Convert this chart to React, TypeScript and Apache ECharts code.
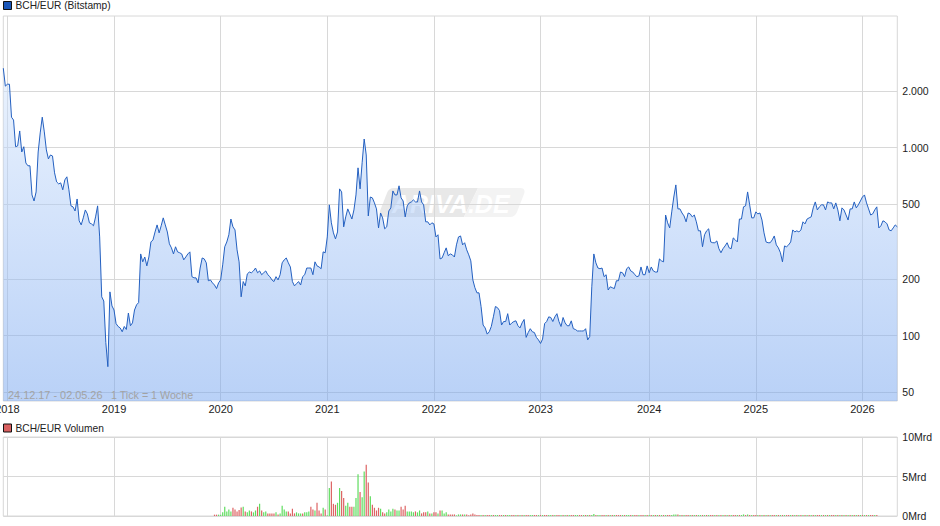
import React, { useEffect, useRef } from "react";
import * as echarts from "echarts";

const FONT = '"Liberation Sans", Arial, sans-serif';
const GRID_LINE = "#d8d8d8";

// weekly closes in EUR
const close2018 = [2640, 2120, 2170, 2170, 1450, 1400, 1010, 1020, 1225, 947, 1010, 828, 800, 800, 560, 520, 581, 947, 1196, 1450, 1211, 971, 870, 913, 902, 734, 657, 641, 649, 596, 673, 699, 596, 490, 484, 460, 533, 408, 388, 423, 466, 444, 398, 393, 384, 428, 490, 335, 161, 153, 92, 68.5, 171, 144];
const close2019 = [137, 116, 112, 110, 105, 112, 108, 132, 113, 117, 137, 146, 150, 272, 247, 262, 235, 262, 315, 323, 356, 388, 352, 384, 423, 388, 356, 308, 293, 272, 297, 279, 276, 272, 253, 262, 272, 279, 206, 203, 203, 191, 229, 259, 256, 244, 196, 198, 191, 186, 178, 191];
const close2020 = [198, 238, 297, 315, 344, 417, 379, 365, 286, 247, 161, 194, 184, 213, 218, 216, 221, 229, 216, 221, 211, 216, 221, 211, 206, 198, 194, 206, 198, 211, 244, 253, 259, 244, 232, 194, 184, 189, 194, 186, 206, 211, 229, 229, 229, 211, 247, 235, 232, 227, 279, 276];
const close2021 = [335, 496, 398, 352, 327, 356, 603, 581, 379, 428, 472, 444, 417, 466, 560, 780, 603, 830, 1110, 913, 433, 546, 540, 508, 472, 374, 449, 423, 370, 379, 460, 478, 588, 560, 560, 626, 540, 520, 428, 490, 508, 514, 527, 514, 514, 588, 514, 496, 403, 403, 388, 398];
const close2022 = [393, 335, 344, 256, 259, 276, 293, 266, 272, 269, 262, 304, 335, 339, 304, 312, 286, 269, 250, 198, 180, 169, 169, 143, 114, 110, 102, 105, 112, 126, 143, 141, 136, 114, 119, 119, 131, 114, 117, 119, 120, 113, 110, 117, 122, 98, 104, 109, 105, 104, 98, 95];
const close2023 = [91, 96, 116, 119, 126, 125, 119, 126, 131, 119, 112, 125, 117, 113, 113, 120, 109, 108, 106, 106, 106, 106, 109, 95, 99, 182, 272, 244, 229, 227, 229, 206, 211, 175, 182, 180, 178, 196, 196, 218, 216, 206, 227, 232, 221, 218, 211, 206, 208, 232, 211, 211, 235];
const close2024 = [216, 232, 221, 218, 218, 256, 250, 247, 438, 398, 374, 455, 546, 633, 472, 472, 449, 433, 403, 449, 444, 428, 438, 403, 361, 361, 297, 344, 361, 370, 315, 312, 312, 319, 290, 276, 290, 300, 312, 293, 290, 331, 323, 315, 417, 417, 484, 490, 581, 496, 423, 423];
const close2025 = [455, 444, 449, 412, 352, 315, 312, 312, 323, 339, 304, 293, 276, 247, 300, 297, 304, 315, 365, 356, 361, 356, 365, 403, 393, 417, 423, 428, 478, 514, 466, 484, 496, 496, 466, 514, 508, 508, 472, 508, 466, 408, 478, 466, 438, 412, 472, 472, 514, 478, 496, 520];
const close2026 = [546, 560, 508, 472, 438, 444, 466, 484, 374, 384, 408, 403, 393, 365, 361, 374, 388, 379];
const closes = [...close2018, ...close2019, ...close2020, ...close2021, ...close2022, ...close2023, ...close2024, ...close2025, ...close2026];

// volume in Mrd, ten weeks a row, first bar is week number volumeStart
const volumeStart = 103;
const volumes = [
  0.17, 0.17, 0.17, 0.17, 0.46, 1.17, 0.58, 0.83, 0.58, 1.04,
  0.83, 0.58, 0.75, 1.08, 1.17, 0.58, 0.46, 0.7, 0.58, 0.46,
  0.7, 1.17, 1.54, 0.7, 0.46, 0.58, 0.33, 0.33, 0.33, 0.33,
  0.46, 0.2, 0.33, 1.29, 0.83, 0.58, 0.58, 0.33, 0.92, 0.33,
  0.46, 0.33, 0.33, 0.33, 0.46, 0.46, 0.58, 1.17, 0.83, 0.7,
  1.67, 0.7, 0.33, 1.04, 0.83, 0.08, 3.54, 4.38, 1.54, 1.42,
  1.67, 3.54, 3.17, 2.29, 1.29, 1.67, 1.17, 1.17, 1.17, 2.29,
  5.3, 3.04, 2.38, 5.63, 6.5, 4.25, 2.5, 1.42, 1.04, 0.7,
  1.04, 0.92, 0.46, 0.33, 0.46, 0.83, 0.58, 0.92, 0.83, 0.7,
  0.7, 1.17, 0.83, 1.29, 0.58, 0.58, 0.58, 0.46, 0.58, 0.46,
  0.7, 0.33, 0.46, 0.46, 0.58, 0.33, 0.33, 0.46, 0.46, 0.33,
  0.7, 0.7, 0.33, 0.46, 0.2, 0.2, 0.2, 0.2, 0.08, 0.2,
  0.2, 0.2, 0.2, 0.2, 0.08, 0.2, 0.33, 0.2,
  0.12, 0.12, 0.12, 0.12, 0.12, 0.12, 0.12, 0.12, 0.12, 0.12,
  0.12, 0.12, 0.12, 0.12, 0.12, 0.12, 0.12, 0.12, 0.12, 0.12,
  0.12, 0.12, 0.12, 0.12, 0.12, 0.12, 0.12, 0.12, 0.12, 0.12,
  0.12, 0.12, 0.12, 0.12, 0.12, 0.12, 0.12, 0.12, 0.12, 0.12,
  0.12, 0.12, 0.12, 0.12, 0.12, 0.12, 0.12, 0.12, 0.12, 0.12,
  0.12, 0.12, 0.12, 0.12, 0.12, 0.12, 0.12, 0.25, 0.12, 0.12,
  0.12, 0.12, 0.12, 0.12, 0.12, 0.12, 0.12, 0.12, 0.12, 0.12,
  0.12, 0.12, 0.12, 0.12, 0.12, 0.12, 0.12, 0.12, 0.12, 0.12,
  0.12, 0.12, 0.12, 0.12, 0.12, 0.12, 0.12, 0.12, 0.12, 0.12,
  0.12, 0.12, 0.12, 0.12, 0.12, 0.12, 0.2, 0.2, 0.2, 0.12,
  0.12, 0.12, 0.12, 0.12, 0.12, 0.12, 0.12, 0.12, 0.12, 0.12,
  0.12, 0.12, 0.12, 0.12, 0.12, 0.12, 0.12, 0.12, 0.12, 0.12,
  0.12, 0.12, 0.12, 0.12, 0.12, 0.12, 0.12, 0.12, 0.12, 0.12,
  0.2, 0.12, 0.2, 0.12, 0.12, 0.12, 0.12, 0.12, 0.12, 0.12,
  0.12, 0.12, 0.12, 0.12, 0.12, 0.12, 0.12, 0.12, 0.12, 0.12,
  0.12, 0.12, 0.12, 0.12, 0.12, 0.12, 0.12, 0.12, 0.12, 0.12,
  0.12, 0.12, 0.12, 0.12, 0.12, 0.12, 0.12, 0.12, 0.12, 0.12,
  0.12, 0.12, 0.12, 0.12, 0.12, 0.12, 0.12, 0.12, 0.12, 0.12,
  0.12, 0.12, 0.12, 0.12, 0.12, 0.12, 0.12, 0.12, 0.12, 0.12,
  0.12, 0.12, 0.12, 0.12, 0.12, 0.12,
];
// r = red week, g = green week
const volumeSides = [
  "rrgggggggr", "rrrrgrggrg", "grgrggrrrr", "grggggrrrr", "gggrgggrrg",
  "rrrgrggrrr", "ggrrggrrgg", "grggrrgrrr", "rgrrggggrg", "grrrggggrg",
  "grrrgrgrrg", "rgggrrrrgg", "grgrrrrr", "rrgrgrrgrg", "grrgrggrrg",
  "rgrgrrggrr", "grgrrggrgr", "rgrgrgrrgg", "rrgrgrggrg", "grrgrgrgrr",
  "rgrggrgrrg", "rrgrgrgrgr", "grgrrgggrg", "rgrrgrgrgg", "rgrgrrgrgr",
  "grgrgrrgrg", "grgrgrrgrg", "rgrgrrgrgr", "grrgrgrgrg", "rgrgrgrrgr",
  "grgrrgrgrg", "rgrgrgrgrg", "rgrrgrgrgr", "grgrgr",
].join("");

const yearTicks = [2, 54, 106, 158, 210, 262, 315, 367, 419];
const yearLabels = ["2018", "2019", "2020", "2021", "2022", "2023", "2024", "2025", "2026"];
const priceTicks = [2000, 1000, 500, 200, 100, 50];
const priceLabels = ["2.000", "1.000", "500", "200", "100", "50"];

const weeks = closes.map((_, i) => {
  const d = new Date(Date.UTC(2017, 11, 24 + i * 7));
  return d.toISOString().slice(0, 10);
});

const isYearTick = (index: number) => yearTicks.includes(index);

echarts.graphic.registerShape(
  "wmLeft",
  echarts.graphic.extendPath("M394 188 H478 L464 217 H384 Q378 217 380 211 L387 193 Q389 188 394 188 Z", {})
);
echarts.graphic.registerShape(
  "wmRight",
  echarts.graphic.extendPath("M478 188 H520 Q526 188 524 194 L517 212 Q515 217 510 217 H464 Z", {})
);

export default function App() {
  const chartRef = useRef<HTMLDivElement | null>(null);

  useEffect(() => {
    if (!chartRef.current) return;
    const chart = echarts.init(chartRef.current, undefined, { renderer: "svg" });

    const xAxisBase = {
      type: "category" as const,
      data: weeks,
      boundaryGap: false,
      axisLine: { show: false },
      axisTick: { show: false },
      splitLine: {
        show: true,
        interval: (index: number) => isYearTick(index),
        lineStyle: { color: GRID_LINE, width: 1 },
      },
    };

    const option = {
      animation: false,
      textStyle: { fontFamily: FONT },
      legend: [
        {
          left: 3,
          top: 0.5,
          padding: 0,
          itemWidth: 8,
          itemHeight: 8,
          itemGap: 4,
          selectedMode: false,
          textStyle: { fontSize: 10.2, color: "#222", fontFamily: FONT, padding: [0, 0, 0, -1] },
          data: [
            {
              name: "BCH/EUR (Bitstamp)",
              icon: "rect",
              itemStyle: { color: "#1a56b8", borderColor: "#111", borderWidth: 1 },
            },
          ],
        },
        {
          left: 3,
          top: 423,
          padding: 0,
          itemWidth: 8,
          itemHeight: 8,
          itemGap: 4,
          selectedMode: false,
          textStyle: { fontSize: 10.2, color: "#222", fontFamily: FONT, padding: [0, 0, 0, -1] },
          data: [
            {
              name: "BCH/EUR Volumen",
              icon: "rect",
              itemStyle: { color: "#d96060", borderColor: "#111", borderWidth: 1 },
            },
          ],
        },
      ],
      grid: [
        { left: 3.3, right: 42.7, top: 16, height: 385, show: true, borderColor: GRID_LINE, borderWidth: 1, backgroundColor: "transparent", outerBoundsMode: "none" },
        { left: 3.3, right: 42.7, top: 437, height: 79, show: true, borderColor: GRID_LINE, borderWidth: 1, backgroundColor: "transparent", outerBoundsMode: "none" },
      ],
      xAxis: [
        {
          ...xAxisBase,
          gridIndex: 0,
          axisLabel: {
            show: true,
            interval: (index: number) => isYearTick(index),
            formatter: (value: string) => yearLabels[yearTicks.findIndex((t) => weeks[t] === value)],
            fontSize: 11,
            color: "#222",
            margin: 2,
            hideOverlap: false,
          },
        },
        { ...xAxisBase, gridIndex: 1, axisLabel: { show: false } },
      ],
      yAxis: [
        {
          type: "log",
          gridIndex: 0,
          min: 45,
          max: 5000,
          position: "right",
          axisLine: { show: false },
          axisTick: { show: false },
          axisLabel: { show: false },
          splitLine: { show: false },
          minorSplitLine: { show: false },
        },
        {
          type: "value",
          gridIndex: 1,
          min: 0,
          max: 10,
          interval: 5,
          position: "right",
          axisLine: { show: false },
          axisTick: { show: false },
          axisLabel: { fontSize: 10.5, color: "#222", margin: 5, formatter: (v: number) => `${v}Mrd` },
          splitLine: { show: true, lineStyle: { color: GRID_LINE, width: 1 } },
        },
      ],
      series: [
        {
          name: "BCH/EUR (Bitstamp)",
          type: "line",
          xAxisIndex: 0,
          yAxisIndex: 0,
          data: closes,
          showSymbol: false,
          symbol: "none",
          z: 3,
          lineStyle: { color: "#2460c0", width: 1 },
          itemStyle: { color: "#2460c0" },
          areaStyle: {
            origin: "start",
            opacity: 1,
            color: new echarts.graphic.LinearGradient(0, 0, 0, 1, [
              { offset: 0, color: "rgba(213,230,253,0.5)" },
              { offset: 1, color: "rgba(115,163,239,0.5)" },
            ]),
          },
          markLine: {
            silent: true,
            z: 1,
            symbol: "none",
            lineStyle: { color: GRID_LINE, width: 1, type: "solid" },
            label: {
              show: true,
              position: "end",
              distance: 5,
              fontSize: 10.5,
              color: "#222",
              fontFamily: FONT,
              formatter: (p: { name: string }) => p.name,
            },
            data: priceTicks.map((v, i) => ({ yAxis: v, name: priceLabels[i] })),
          },
        },
        {
          name: "BCH/EUR Volumen",
          type: "bar",
          xAxisIndex: 1,
          yAxisIndex: 1,
          barWidth: 1.2,
          data: volumes.map((v, i) => ({
            value: [volumeStart + i, v],
            itemStyle: { color: volumeSides[i] === "g" ? "#5fdd5f" : "#dd6363" },
          })),
        },
      ],
      graphic: [
        { type: "wmLeft", x: 0, y: 0, z: 0, silent: true, style: { fill: "#e8e8e8" } },
        { type: "wmRight", x: 0, y: 0, z: 0, silent: true, style: { fill: "#f3f3f3" } },
        {
          type: "text",
          x: 392,
          y: 191,
          z: 0,
          silent: true,
          style: { text: "ARIVA.DE", fill: "#ffffff", font: 'italic bold 25px "Liberation Sans", sans-serif' },
        },
        {
          type: "text",
          x: 8,
          y: 389,
          z: 10,
          silent: true,
          style: { text: "24.12.17 - 02.05.26", fill: "#a3a3a3", font: '10.9px "Liberation Sans", sans-serif' },
        },
        {
          type: "text",
          x: 111,
          y: 389,
          z: 10,
          silent: true,
          style: { text: "1 Tick = 1 Woche", fill: "#a3a3a3", font: '10.7px "Liberation Sans", sans-serif' },
        },
      ],
    };

    chart.setOption(option as echarts.EChartsOption);
    return () => {
      chart.dispose();
    };
  }, []);

  return <div ref={chartRef} style={{ position: "absolute", left: 0, top: 0, width: 940, height: 526, background: "#fff" }} />;
}
